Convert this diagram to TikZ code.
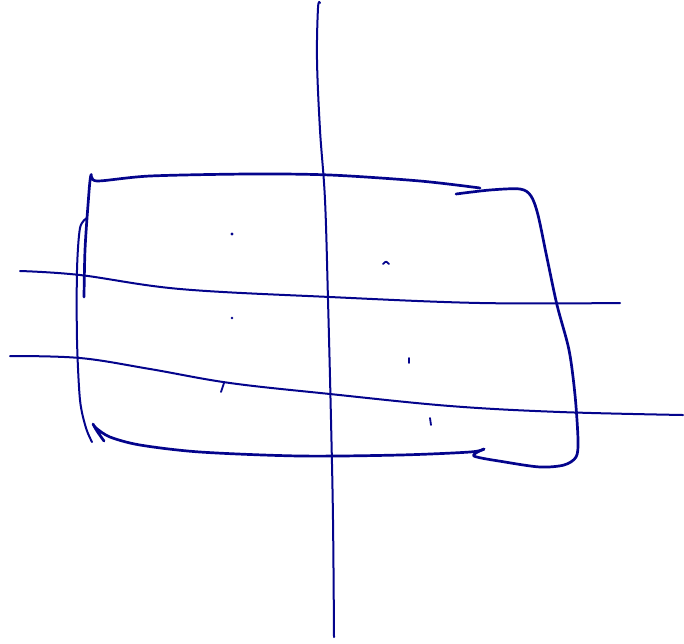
\documentclass[tikz,border=0pt]{standalone}
\usepackage{tikz}
\definecolor{inkblue}{RGB}{4,4,140}

\begin{document}
\begin{tikzpicture}[
  x=1pt, y=-1pt,
  pen/.style={draw=inkblue, line width=2pt, line cap=round, line join=round},
  heavy/.style={pen, line width=2.7pt},
  speck/.style={pen, line width=1.8pt}
]
\useasboundingbox (0,0) rectangle (684,643);
% axes
\draw[pen] plot[smooth, tension=0.6] coordinates {(320,3) (318,8) (317,60) (320,130) (325,200) (328,300) (331,420) (333,520) (334,637)};
\draw[pen] plot[smooth, tension=0.6] coordinates {(20,271) (80,275) (180,289) (330,297) (480,303) (620,303)};
\draw[pen] plot[smooth, tension=0.6] coordinates {(10,356) (80,358) (150,369) (230,383) (330,394) (450,406) (560,412) (683,415)};
% box
\draw[heavy] plot[smooth, tension=0.5] coordinates {(84,297) (85,250) (88,205) (91,175) (97,181) (150,176) (250,174) (330,175) (420,181) (480,188)};
\draw[pen] plot[smooth, tension=0.5] coordinates {(87,218) (80,228) (77,270) (77,340) (80,400) (86,428) (92,442)};
\draw[heavy] plot[smooth, tension=0.5] coordinates {(456,194) (490,190) (520,189) (531,196) (538,215) (547,258) (557,305) (569,350) (575,395) (578,440) (576,457) (564,465) (540,467) (505,462) (474,456) (484,449)};
\draw[heavy] plot[smooth, tension=0.5] coordinates {(484,449) (470,452) (400,455) (300,456) (200,452) (140,445) (110,437) (96,428) (93,424) (97,431) (104,441)};
% specks
\fill[inkblue] (232,234) circle (1.6pt);
\fill[inkblue] (232,318) circle (1.4pt);
\draw[speck] (383,264) .. controls (386,261) .. (389,264);
\draw[speck] (409,358) -- (409,363);
\draw[speck] (224,383) -- (221,392);
\draw[speck] (430,418) -- (431,425);
\end{tikzpicture}
\end{document}
